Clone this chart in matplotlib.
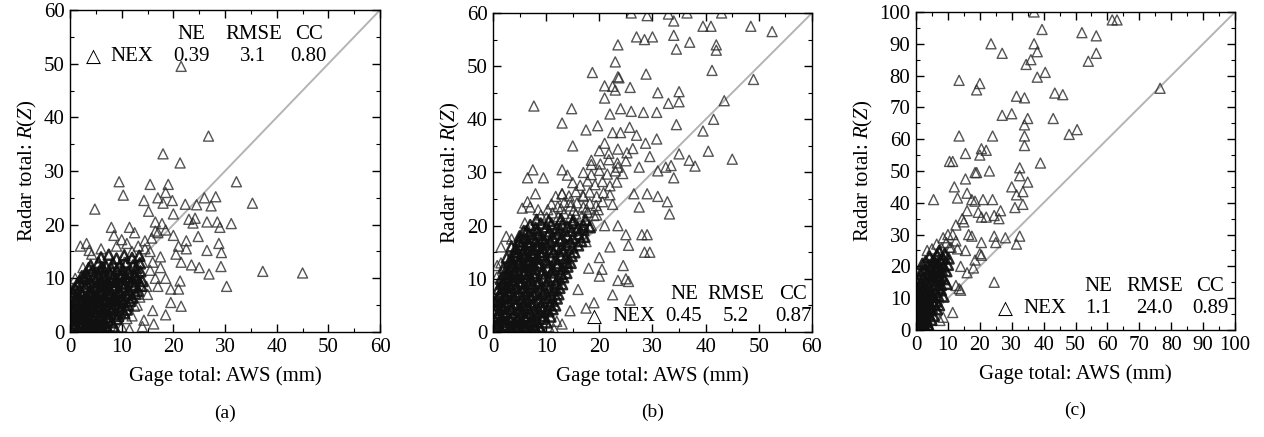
import numpy as np
import matplotlib
matplotlib.use('Agg')
import matplotlib.pyplot as plt
from matplotlib.ticker import MultipleLocator

plt.rcParams['font.family'] = ['Liberation Serif', 'DejaVu Sans']
plt.rcParams['mathtext.fontset'] = 'custom'
plt.rcParams['mathtext.rm'] = 'Liberation Serif'
plt.rcParams['mathtext.it'] = 'Liberation Serif:italic'

# ---- data (gage total, radar total) ----
# scattered points
pts_a = [
    (21.5, 49.5), (26.8, 36.5), (18, 33.2), (21.3, 31.5), (9.5, 28), (32.2, 28), (10.3, 25.5),
    (4.8, 22.9), (15.5, 27.5), (19, 27.5), (18.5, 26), (17, 25), (14.3, 24.5), (19.8, 24.5),
    (26, 25), (28.2, 25.2), (35.3, 24), (22.3, 23.8), (24.5, 23.7), (27.3, 23.5), (18, 24),
    (15.2, 22.5), (20, 22), (16.5, 20.5), (23.8, 20.3), (26.5, 20.5), (28.5, 20.5), (29, 19.5),
    (31.2, 20.2), (23, 21), (24.2, 21.2), (28.8, 16.5), (29.3, 14.8), (26.5, 15.2), (24.8, 17.8),
    (22.5, 17), (29.2, 12.2), (25, 12), (23.5, 12.5), (21.5, 13), (26.9, 10.8), (37.3, 11.3),
    (45, 11), (30.3, 8.5), (21.3, 9.5), (21, 8), (21.5, 4.8), (18.5, 3.2), (19.5, 5.5),
    (14.3, 2.2), (16.2, 1.5), (2, 16), (3.2, 16.5), (3.7, 15.2), (4.2, 14.5), (6, 15.5),
    (8, 19.5), (8.5, 18), (11.5, 19.5), (12.5, 18.5), (9, 16), (14.5, 17), (17, 18.5),
    (18.5, 19), (20, 18), (21, 16), (20.5, 14.5), (22.5, 15.5), (17.5, 14), (17.5, 12),
    (18.5, 10), (16.5, 10), (19.5, 8), (17, 8.5), (15, 7), (13, 5), (16, 4), (12, 3), (14, 1),
    (10, 1), (11.5, 0.5), (9, 0.3), (13, 11), (14, 13), (15.5, 15), (12, 15), (10.5, 13),
    (6.5, 12), (5, 11), (3.5, 10.5), (1, 10), (0.5, 8), (2.5, 12),
    (14.5, 15.5), (15.8, 17.5), (16.5, 18.8), (17.8, 20.2), (13.2, 16.0), (11.0, 16.5),
    (10.0, 17.2), (16.0, 13.0), (15.5, 11.5), (14.8, 8.5), (13.5, 6.5), (12.5, 4.8), (11.0, 2.5),
]
# the dense black cluster near the origin
core_a = [
    (0.2, 0.3), (0.8, 0.9), (1.5, 0.4), (2.1, 1.0), (2.8, 0.5), (3.4, 0.8), (4.0, 0.3), (4.7, 0.9),
    (5.3, 0.4), (6.0, 0.7), (6.6, 0.2), (7.3, 0.6),
    (0.3, 2.1), (1.0, 1.6), (1.7, 2.4), (2.4, 1.8), (3.0, 2.5), (3.7, 1.7), (4.4, 2.3), (5.1, 1.9),
    (5.8, 2.6), (6.5, 1.6), (7.3, 2.2), (8.1, 1.8), (9.0, 2.4),
    (0.4, 3.6), (1.2, 3.1), (1.9, 3.9), (2.6, 3.3), (3.3, 4.0), (4.1, 3.2), (4.8, 3.8), (5.6, 3.0),
    (6.3, 3.7), (7.1, 3.3), (7.9, 4.0), (8.8, 3.4), (9.6, 3.9), (10.5, 3.5),
    (0.5, 5.2), (1.3, 4.7), (2.1, 5.5), (2.9, 4.8), (3.6, 5.3), (4.4, 4.6), (5.2, 5.4), (6.0, 4.9),
    (6.8, 5.5), (7.6, 4.7), (8.5, 5.2), (9.4, 4.8), (10.3, 5.5), (11.2, 5.0),
    (0.6, 6.7), (1.5, 6.2), (2.4, 6.9), (3.2, 6.1), (4.0, 6.6), (4.9, 6.2), (5.7, 7.0), (6.6, 6.3),
    (7.4, 6.8), (8.3, 6.1), (9.2, 6.7), (10.1, 6.2), (11.0, 6.9), (12.0, 6.4),
    (1.0, 8.1), (2.0, 7.6), (3.0, 8.4), (3.9, 7.7), (4.8, 8.3), (5.7, 7.8), (6.6, 8.5), (7.5, 7.9),
    (8.4, 8.2), (9.3, 7.6), (10.3, 8.4), (11.3, 7.8), (12.3, 8.3), (13.2, 7.7),
    (1.8, 9.4), (2.9, 9.9), (4.0, 9.2), (5.0, 9.8), (6.0, 9.3), (7.0, 10.0), (8.0, 9.4), (9.0, 9.9),
    (10.0, 9.2), (11.0, 9.8), (12.0, 9.4), (13.0, 10.0), (14.0, 9.5),
    (3.0, 10.9), (4.3, 11.4), (5.5, 10.7), (6.6, 11.3), (7.8, 10.8), (9.0, 11.5), (10.1, 10.8),
    (11.3, 11.2), (12.5, 10.6), (13.6, 11.3),
    (4.0, 12.4), (5.5, 12.9), (7.0, 12.2), (8.3, 12.8), (9.6, 12.3), (10.9, 12.9), (12.2, 12.4),
    (13.5, 12.8), (6.0, 13.9), (7.5, 14.4), (9.0, 13.7), (10.5, 14.3), (12.0, 13.8), (13.4, 14.2),
    (0.5, 1.2), (1.2, 2.8), (2.2, 2.9), (3.1, 1.3), (4.2, 1.4), (5.0, 3.1), (2.5, 4.3), (3.5, 6.0),
    (4.6, 5.8), (5.5, 6.0), (6.2, 4.2), (7.0, 5.9), (8.0, 7.1), (6.1, 8.9), (7.2, 8.8), (8.7, 9.3),
    (9.8, 10.5), (11.5, 10.2), (3.8, 7.4), (2.7, 10.2), (1.4, 7.3), (0.9, 5.8), (0.3, 4.4),
    (5.9, 11.7), (8.8, 6.3),
    (1.8, 1.1), (4.5, 1.2), (5.9, 1.3), (7.0, 1.1), (8.4, 1.0),
    (0.8, 2.8), (3.5, 2.9), (6.1, 3.0), (7.6, 2.8), (9.3, 3.0),
    (0.9, 4.3), (3.9, 4.4), (5.4, 4.3), (7.0, 4.5), (8.2, 4.4), (9.9, 4.6), (11.0, 4.2),
    (1.0, 5.9), (2.6, 6.0), (4.2, 5.8), (6.3, 6.1), (7.9, 5.8), (9.7, 6.0), (11.6, 5.8),
    (0.5, 7.4), (2.3, 7.2), (4.3, 7.3), (6.2, 7.4), (7.9, 7.3), (9.7, 7.4), (11.6, 7.3), (12.7, 7.1),
    (1.3, 8.8), (3.4, 8.9), (5.3, 8.7), (7.0, 8.9), (8.9, 8.7), (10.7, 8.9), (12.6, 8.8), (13.8, 8.6),
    (2.3, 10.4), (4.6, 10.3), (6.5, 10.4), (8.4, 10.3), (10.6, 10.2), (12.4, 10.4),
    (3.6, 11.9), (6.3, 11.9), (8.0, 11.8), (10.2, 11.7), (12.8, 11.9),
]

pts_b = [
    (26, 60), (29, 59.5), (33, 59.8), (36.5, 60), (43, 60), (34, 58.5), (39.5, 57.5), (41, 57.5),
    (48.5, 57.5), (52.5, 56.5), (27, 55.5), (28.5, 55), (30, 55.5), (34, 55.8), (37, 54.5),
    (42, 54), (42, 53), (34.5, 53.2), (23.5, 54), (41.2, 49.2), (49, 47.5), (23, 50.8),
    (18.7, 48.8), (28.8, 48.5), (23.5, 48), (23.7, 47.8), (22.5, 46.2), (25.8, 46), (23, 45.5),
    (21, 46.3), (31, 45), (35, 45.2), (21, 44), (7.7, 42.5), (14.8, 42), (24, 42), (26, 41.5),
    (28.3, 41.3), (30.8, 41.3), (33, 43), (35, 43.3), (43.5, 43.5), (22, 41), (13, 39.3),
    (19.7, 38.8), (25.7, 38.5), (34.5, 39), (39.5, 37.8), (41.5, 40), (17.5, 38), (22.5, 37.5),
    (24, 37.5), (27, 37), (15, 35), (21, 35.5), (26.3, 34.5), (28.7, 35.5), (30.8, 36.3),
    (36.9, 32.3), (38, 31.2), (40.5, 34), (45, 32.5), (35, 33.5), (33.5, 31.3), (34, 29),
    (6.5, 29), (7.5, 30.5), (9.5, 29), (13, 30.5), (14, 29.5), (18.5, 31.5), (23.5, 31),
    (27.5, 31), (29.5, 33), (31, 30.3), (32.5, 31), (5.5, 23.3), (6.5, 24.5), (7, 23.5),
    (8.5, 23), (8, 26), (11.8, 25.5), (13, 26), (14.5, 24.5), (17, 25.5), (22.5, 24), (26.5, 26),
    (29, 26), (31, 25.5), (32.8, 24.5), (33.2, 22.2), (27.5, 23.5), (2.5, 18), (1.5, 16),
    (3.5, 17.5), (6, 20.5), (4.5, 14), (0.8, 12.5), (1.5, 13), (0.7, 10.3), (23.5, 20),
    (25, 18.3), (25.5, 16.3), (28, 18.3), (29, 18.3), (28.5, 15), (29.5, 15), (24.5, 12.5),
    (25, 10), (25.5, 9.5), (23.5, 9.7), (22.5, 7), (25.8, 6), (20.5, 11.8), (20, 14), (19, 5.5),
    (17.5, 4.5), (14.5, 4), (13, 1.5), (12, 2), (10.5, 1), (11.5, 0.5), (19.5, 22), (21, 20),
    (22, 16), (20, 10.5), (16, 8), (18, 12), (17.5, 17), (18.5, 20),
    (13.0, 26.0), (14.3, 25.6), (15.6, 26.4), (16.9, 25.7), (18.2, 26.3), (19.5, 25.5), (20.8, 26.2),
    (22.0, 25.8),
    (15.0, 28.1), (16.4, 27.6), (17.8, 28.4), (19.2, 27.7), (20.6, 28.3), (22.0, 27.5), (23.3, 28.2),
    (17.0, 30.0), (18.5, 29.6), (20.0, 30.4), (21.5, 29.7), (23.0, 30.3), (24.4, 29.8),
    (18.5, 32.3), (20.2, 31.6), (21.8, 32.4), (23.4, 31.8), (25.0, 32.2),
    (20.0, 34.1), (21.8, 33.6), (23.5, 34.4), (25.2, 33.7),
    (9.0, 22.0), (10.1, 21.6), (11.2, 22.4), (12.3, 21.7), (13.4, 22.3), (14.5, 21.5), (15.6, 22.2),
    (16.7, 21.8), (17.8, 22.5), (19.0, 21.9),
    (11.0, 24.1), (12.2, 23.6), (13.4, 24.4), (14.6, 23.7), (15.8, 24.3), (17.0, 23.5), (18.2, 24.2),
    (19.4, 23.8), (20.6, 24.5),
    (10.3, 23.0), (12.8, 23.2), (15.2, 22.9), (17.6, 23.1), (19.8, 23.0),
]
core_b = [
    (0.2, 0.4), (0.9, 0.8), (1.6, 0.3), (2.3, 0.9), (3.0, 0.5), (3.7, 0.2), (4.4, 0.7), (5.1, 0.3),
    (5.8, 0.8), (6.5, 0.4), (7.2, 0.2), (8.0, 0.6), (9.0, 0.3),
    (0.3, 2.2), (1.0, 1.7), (1.8, 2.5), (2.5, 1.9), (3.2, 2.4), (3.9, 1.6), (4.6, 2.3), (5.3, 1.8),
    (6.0, 2.6), (6.8, 1.7), (7.5, 2.2), (8.3, 1.9), (9.2, 2.5), (10.0, 1.8),
    (0.4, 4.1), (1.1, 3.6), (1.9, 4.4), (2.6, 3.7), (3.4, 4.3), (4.1, 3.5), (4.9, 4.2), (5.6, 3.8),
    (6.4, 4.5), (7.1, 3.6), (7.9, 4.2), (8.7, 3.7), (9.5, 4.4), (10.4, 3.9), (11.2, 4.3),
    (0.6, 6.0), (1.4, 5.6), (2.2, 6.4), (3.0, 5.7), (3.8, 6.3), (4.6, 5.5), (5.4, 6.2), (6.2, 5.8),
    (7.0, 6.5), (7.8, 5.6), (8.6, 6.1), (9.4, 5.7), (10.3, 6.4), (11.1, 5.9), (12.0, 6.3),
    (1.0, 8.1), (1.8, 7.6), (2.6, 8.4), (3.4, 7.7), (4.2, 8.3), (5.0, 7.5), (5.8, 8.2), (6.6, 7.8),
    (7.4, 8.5), (8.2, 7.6), (9.0, 8.1), (9.8, 7.7), (10.7, 8.4), (11.6, 7.9), (12.5, 8.3),
    (1.5, 10.0), (2.3, 9.6), (3.1, 10.4), (3.9, 9.7), (4.7, 10.3), (5.5, 9.5), (6.3, 10.2),
    (7.1, 9.8), (7.9, 10.5), (8.7, 9.6), (9.5, 10.1), (10.4, 9.7), (11.3, 10.4), (12.2, 9.9),
    (13.2, 10.3),
    (2.0, 12.1), (2.9, 11.6), (3.8, 12.4), (4.6, 11.7), (5.4, 12.3), (6.2, 11.5), (7.0, 12.2),
    (7.8, 11.8), (8.6, 12.5), (9.4, 11.6), (10.3, 12.1), (11.2, 11.7), (12.1, 12.4), (13.0, 11.9),
    (14.0, 12.3),
    (2.6, 14.0), (3.5, 13.6), (4.4, 14.4), (5.2, 13.7), (6.0, 14.3), (6.8, 13.5), (7.6, 14.2),
    (8.4, 13.8), (9.2, 14.5), (10.0, 13.6), (10.9, 14.1), (11.8, 13.7), (12.7, 14.4), (13.7, 13.9),
    (14.8, 14.3),
    (3.5, 16.1), (4.4, 15.6), (5.3, 16.4), (6.1, 15.7), (6.9, 16.3), (7.7, 15.5), (8.5, 16.2),
    (9.3, 15.8), (10.1, 16.5), (11.0, 15.6), (11.9, 16.1), (12.8, 15.7), (13.8, 16.4), (14.9, 15.9),
    (16.0, 16.3),
    (5.0, 18.0), (5.9, 17.6), (6.8, 18.4), (7.6, 17.7), (8.5, 18.3), (9.4, 17.5), (10.3, 18.2),
    (11.2, 17.8), (12.1, 18.5), (13.0, 17.6), (14.0, 18.1), (15.0, 17.7), (16.1, 18.4), (17.2, 17.9),
    (7.0, 20.1), (8.0, 19.6), (9.0, 20.4), (10.0, 19.7), (11.0, 20.3), (12.0, 19.5), (13.0, 20.2),
    (14.0, 19.8), (15.0, 20.5), (16.0, 19.6), (17.0, 20.1), (18.2, 19.7),
    (0.5, 5.0), (1.2, 7.0), (2.0, 9.0), (2.8, 11.0), (3.6, 13.0), (4.3, 15.0), (5.0, 17.0),
    (5.8, 19.0), (6.5, 16.8), (5.5, 14.8), (4.8, 12.8), (3.9, 10.8), (3.2, 8.8), (2.4, 6.8),
    (1.6, 4.8), (0.9, 2.9), (6.0, 12.8), (7.2, 14.8), (8.0, 17.0), (6.8, 10.9), (7.6, 12.9),
    (8.8, 15.0), (9.6, 16.9),
    (0.5, 1.1), (1.9, 1.3), (3.3, 1.0), (4.8, 1.2), (6.2, 1.1), (7.6, 1.3), (8.8, 1.0),
    (0.7, 3.0), (2.1, 3.2), (3.6, 2.9), (5.0, 3.1), (6.5, 3.0), (8.0, 3.2), (9.6, 3.0), (10.8, 2.9),
    (0.9, 5.1), (2.4, 4.9), (4.0, 5.2), (5.6, 5.0), (7.2, 5.1), (8.9, 4.9), (10.6, 5.1), (11.7, 5.0),
    (1.2, 7.0), (2.8, 7.2), (4.4, 6.9), (6.0, 7.1), (7.6, 7.0), (9.3, 7.2), (11.0, 6.9), (12.3, 7.1),
    (1.6, 9.1), (3.2, 8.9), (4.9, 9.2), (6.6, 9.0), (8.3, 9.1), (10.0, 8.9), (11.8, 9.1), (13.0, 9.0),
    (2.2, 11.0), (3.9, 11.2), (5.7, 10.9), (7.5, 11.1), (9.2, 11.0), (11.0, 11.2), (12.8, 10.9),
    (13.8, 11.1),
    (3.0, 13.1), (4.8, 12.9), (6.6, 13.2), (8.4, 13.0), (10.2, 13.1), (12.1, 12.9), (13.9, 13.1),
    (14.6, 13.0),
    (3.9, 15.0), (5.8, 15.2), (7.6, 14.9), (9.5, 15.1), (11.4, 15.0), (13.3, 15.2), (15.3, 15.0),
    (4.8, 17.1), (6.7, 16.9), (8.7, 17.2), (10.7, 17.0), (12.6, 17.1), (14.6, 16.9), (16.6, 17.1),
    (6.3, 19.0), (8.4, 19.2), (10.6, 18.9), (12.7, 19.1), (14.8, 19.0), (17.0, 19.2),
    (8.2, 21.1), (10.5, 20.9), (12.8, 21.2), (15.1, 21.0), (17.4, 21.1),
]

pts_c = [
    (37, 100), (39.5, 94.5), (23.5, 90), (27, 87), (37, 90), (38, 87.5), (36, 85), (34.5, 83.5),
    (38, 79.5), (40.5, 81), (61.5, 97.5), (63, 97.5), (52, 93.5), (56.5, 92.5), (56.5, 87),
    (54, 84.5), (76.5, 76), (13.5, 78.5), (20, 77.5), (19, 75.5), (31.5, 73.5), (34, 73),
    (43.5, 74.5), (46, 74), (27, 67.5), (30, 68), (43, 66.5), (35, 66.5), (34, 64.5), (48, 61.5),
    (50.5, 63), (13.5, 61), (24, 61), (34, 61), (34, 58), (20.5, 57), (22, 56.5), (15.5, 55.5),
    (20, 55), (10.5, 53), (11.5, 53), (18.5, 49.5), (19, 49.5), (23, 50), (32.5, 51), (32.5, 48.5),
    (39, 52.5), (15.5, 47.5), (35, 46.5), (12, 45), (5.5, 41), (13, 41.5), (16, 43), (17.5, 41),
    (18.5, 40.5), (21, 41), (24, 41), (30, 45), (31.5, 42.5), (33.5, 43.5), (33.5, 39.5),
    (31, 38.5), (19.5, 37), (20.5, 35.5), (22, 35.5), (24.5, 36), (26.5, 37.5), (26, 35), (16, 37.5),
    (14.5, 35), (12.5, 33), (15, 34), (24.5, 29.5), (28, 29), (32.5, 29.5), (31.5, 27), (25, 27.5),
    (20.5, 27.5), (16.5, 30), (17.5, 29.5), (15.5, 25), (18.5, 22), (20, 24), (20.5, 23.5),
    (18, 19.5), (14, 20), (16, 18), (24.5, 15), (12.5, 14), (13.5, 13), (14, 12.5), (11.5, 5.5),
    (8.5, 4), (7.5, 3), (3.5, 25), (1.5, 18.5), (11.5, 30), (12.5, 28), (10, 30), (8.5, 29),
    (10.5, 26), (13, 25.5),
    (5.0, 25.5), (6.5, 27.0), (8.0, 25.8), (9.5, 27.5), (11.0, 26.0),
]
core_c = [
    (0.2, 0.5), (0.8, 1.5), (1.4, 0.8), (2.0, 2.0), (2.8, 1.0), (3.5, 2.5), (4.2, 0.6), (0.3, 3.0),
    (1.0, 4.2), (1.7, 3.5), (2.5, 4.8), (3.2, 3.8), (4.0, 5.0), (4.8, 3.2), (5.5, 4.5),
    (0.4, 6.0), (1.1, 7.5), (1.8, 6.5), (2.6, 8.0), (3.3, 6.8), (4.1, 8.5), (4.9, 7.0), (5.7, 8.2),
    (6.5, 6.5), (7.2, 7.8),
    (0.5, 9.5), (1.3, 11.0), (2.1, 10.0), (2.9, 11.5), (3.7, 10.2), (4.5, 12.0), (5.3, 10.5),
    (6.1, 12.0), (6.9, 10.8), (7.8, 12.5), (8.6, 10.5),
    (0.6, 13.0), (1.5, 14.5), (2.4, 13.5), (3.3, 15.0), (4.2, 13.8), (5.1, 15.5), (6.0, 14.0),
    (6.9, 15.8), (7.8, 14.2), (8.7, 16.0), (9.6, 14.5),
    (1.5, 17.5), (2.5, 19.0), (3.5, 17.8), (4.5, 19.5), (5.5, 18.0), (6.5, 19.8), (7.5, 18.2),
    (8.5, 20.0), (9.5, 18.5),
    (3.0, 21.5), (4.2, 23.0), (5.4, 21.8), (6.6, 23.5), (7.8, 22.0), (9.0, 24.0), (10.2, 22.5),
    (0.2, 8.0), (0.3, 11.5), (0.2, 15.5), (0.9, 2.5), (1.6, 5.5), (2.2, 1.0), (3.0, 0.3),
    (5.8, 16.8), (6.2, 18.9), (7.0, 17.0), (5.2, 20.2), (6.8, 21.0),
    (0.5, 2.0), (1.3, 2.2), (2.3, 3.0), (3.8, 1.5), (0.6, 4.8), (1.4, 5.0), (2.9, 5.8), (4.5, 6.2),
    (0.8, 8.8), (1.6, 9.0), (2.5, 9.6), (3.6, 8.0), (5.0, 9.2), (6.3, 9.0), (1.0, 12.2), (2.0, 12.5),
    (3.2, 12.8), (4.8, 11.0), (7.0, 13.2), (0.9, 16.2), (2.2, 16.5), (3.9, 16.5), (5.0, 17.2),
    (7.5, 16.5), (8.0, 18.9), (6.0, 21.0), (8.5, 22.5), (10.0, 20.5), (7.2, 24.8), (2.0, 20.8),
    (4.0, 20.5),
]

panel_tags = ['(a)', '(b)', '(c)']
axis_max = [60, 60, 100]
stats_ne = ['0.39', '0.45', '1.1']
stats_rmse = ['3.1', '5.2', '24.0']
stats_cc = ['0.80', '0.87', '0.89']

# axes boxes in figure fractions
boxes = [
    [0.0554, 0.2403, 0.2453, 0.7368],
    [0.3900, 0.2403, 0.2524, 0.7300],
    [0.7247, 0.2449, 0.2524, 0.7277],
]

# where the stats block sits, in data units: (tri_x, nex_x, ne_x, rmse_x, cc_x, head_y, row_y)
stat_pos = [
    (4.5, 11.9, 23.5, 35.5, 46.2, 55.4, 51.4),
    (19.0, 26.5, 35.9, 45.6, 56.5, 7.0, 2.9),
    (27.9, 40.4, 57.2, 74.8, 92.2, 13.6, 6.8),
]

fig = plt.figure(figsize=(12.64, 4.37), dpi=100)
fs = 15

for i, (pts, core) in enumerate([(pts_a, core_a), (pts_b, core_b), (pts_c, core_c)]):
    ax = fig.add_axes(boxes[i])
    xy = np.array(pts)
    cxy = np.array(core)
    m = axis_max[i]
    ax.plot([0, m], [0, m], color='#b4b4b4', lw=1.4, zorder=1)
    ax.scatter(xy[:, 0], xy[:, 1], s=52, marker='^', facecolors='none',
               edgecolors='#2a2a2a', linewidths=1.0, alpha=0.8, zorder=2)
    # dense cluster: heavier outlines so the overlap reads as solid black
    ax.scatter(cxy[:, 0], cxy[:, 1], s=52, marker='^', facecolors='none',
               edgecolors='#101010', linewidths=1.8, alpha=0.9, zorder=2)
    ax.set_xlim(0, m)
    ax.set_ylim(0, m)
    ax.xaxis.set_major_locator(MultipleLocator(10))
    ax.yaxis.set_major_locator(MultipleLocator(10))
    ax.xaxis.set_minor_locator(MultipleLocator(5))
    ax.yaxis.set_minor_locator(MultipleLocator(5))
    ax.tick_params(which='both', direction='in', top=True, right=True, labelsize=fs, pad=4)
    ax.tick_params(which='major', length=6, width=1.0)
    ax.tick_params(which='minor', length=3, width=0.8)
    for sp in ax.spines.values():
        sp.set_linewidth(1.0)
        sp.set_zorder(4)
    ax.set_xlabel('Gage total: AWS (mm)', fontsize=fs, labelpad=7)
    ax.set_ylabel('Radar total: $R$($Z$)', fontsize=fs, labelpad=3)

    tx, nx, nex, rx, cx, hy, ry = stat_pos[i]
    ax.text(tx, ry, '△', fontsize=fs - 1, ha='center', va='center',
            family=['DejaVu Sans'], zorder=5)
    ax.text(nx, ry, 'NEX', fontsize=fs, ha='center', va='center', zorder=5)
    ax.text(nex, hy, 'NE', fontsize=fs, ha='center', va='center', zorder=5)
    ax.text(rx, hy, 'RMSE', fontsize=fs, ha='center', va='center', zorder=5)
    ax.text(cx, hy, 'CC', fontsize=fs, ha='center', va='center', zorder=5)
    ax.text(nex, ry, stats_ne[i], fontsize=fs, ha='center', va='center', zorder=5)
    ax.text(rx, ry, stats_rmse[i], fontsize=fs, ha='center', va='center', zorder=5)
    ax.text(cx, ry, stats_cc[i], fontsize=fs, ha='center', va='center', zorder=5)

    ax.text(0.5, -0.225, panel_tags[i], transform=ax.transAxes, fontsize=14,
            ha='center', va='top')

fig.savefig('out.png', dpi=100)
